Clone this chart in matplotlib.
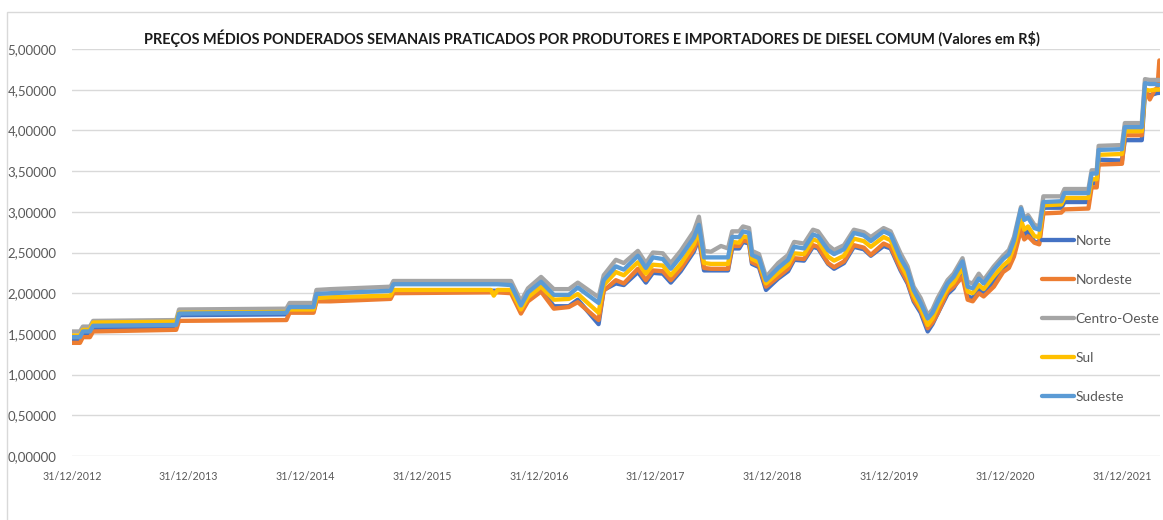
import matplotlib
matplotlib.use("Agg")
import matplotlib.pyplot as plt
import matplotlib.dates as mdates
from matplotlib import font_manager as fm
from matplotlib.patches import Rectangle
import pandas as pd

avail = {f.name for f in fm.fontManager.ttflist}
FONT = next((f for f in ['Liberation Sans Narrow', 'Lato', 'Roboto', 'Open Sans'] if f in avail), 'DejaVu Sans')
plt.rcParams['font.family'] = [FONT, 'DejaVu Sans']

TITLE = "PREÇOS MÉDIOS PONDERADOS SEMANAIS PRATICADOS POR PRODUTORES E IMPORTADORES DE DIESEL COMUM (Valores em R$)"

dates = ["2012-12-31", "2013-01-25", "2013-02-03", "2013-02-25", "2013-03-07", "2013-11-22", "2013-12-01",
         "2014-11-02", "2014-11-12", "2015-01-26", "2015-02-04", "2015-03-20", "2015-09-24", "2015-10-03",
         "2016-08-03", "2016-08-12", "2016-08-24", "2016-10-05", "2016-11-05", "2016-11-27", "2017-01-07",
         "2017-02-16", "2017-04-04", "2017-05-02", "2017-07-06", "2017-07-22", "2017-08-29", "2017-09-23",
         "2017-11-06", "2017-12-01", "2017-12-23", "2018-01-23", "2018-02-17", "2018-03-20", "2018-04-30",
         "2018-05-16", "2018-06-01", "2018-06-23", "2018-07-24", "2018-08-15", "2018-08-28", "2018-09-19",
         "2018-10-01", "2018-10-20", "2018-10-29", "2018-11-20", "2018-12-12", "2019-01-19", "2019-02-19",
         "2019-03-10", "2019-04-10", "2019-05-08", "2019-05-24", "2019-06-24", "2019-07-13", "2019-08-13",
         "2019-09-13", "2019-10-14", "2019-11-05", "2019-12-15", "2020-01-06", "2020-02-06", "2020-02-28",
         "2020-03-18", "2020-04-09", "2020-05-01", "2020-05-16", "2020-06-01", "2020-07-02", "2020-07-21",
         "2020-08-18", "2020-09-03", "2020-09-19", "2020-10-08", "2020-10-23", "2020-11-24", "2020-12-23",
         "2021-01-10", "2021-01-26", "2021-02-17", "2021-02-27", "2021-03-11", "2021-03-31", "2021-04-15",
         "2021-04-28", "2021-06-23", "2021-07-03", "2021-09-16", "2021-09-26", "2021-10-12", "2021-10-18",
         "2021-12-30", "2022-01-08", "2022-03-02", "2022-03-12", "2022-03-27", "2022-04-12", "2022-04-20",
         "2022-04-26"]

centro_oeste = [1.53, 1.53, 1.59, 1.59, 1.66, 1.67, 1.80, 1.81, 1.88, 1.88, 2.04, 2.05, 2.08, 2.15,
                2.15, 2.15, 2.15, 2.15, 1.90, 2.06, 2.20, 2.05, 2.05, 2.13, 1.95, 2.22, 2.41, 2.37,
                2.52, 2.37, 2.50, 2.49, 2.37, 2.52, 2.76, 2.94, 2.52, 2.51, 2.58, 2.55, 2.76, 2.76,
                2.82, 2.80, 2.52, 2.48, 2.20, 2.37, 2.47, 2.63, 2.61, 2.78, 2.76, 2.59, 2.53, 2.59,
                2.78, 2.75, 2.69, 2.80, 2.76, 2.49, 2.33, 2.08, 1.94, 1.73, 1.80, 1.94, 2.16, 2.24,
                2.43, 2.14, 2.12, 2.24, 2.16, 2.33, 2.46, 2.53, 2.69, 3.06, 2.92, 2.96, 2.84, 2.82,
                3.19, 3.19, 3.28, 3.28, 3.51, 3.51, 3.81, 3.82, 4.09, 4.09, 4.63, 4.62, 4.62, 4.62,
                4.62]
sudeste = [1.46, 1.46, 1.53, 1.53, 1.60, 1.61, 1.75, 1.76, 1.83, 1.83, 1.99, 2.00, 2.03, 2.11,
           2.11, 2.11, 2.11, 2.10, 1.85, 2.01, 2.14, 1.98, 1.98, 2.07, 1.88, 2.16, 2.33, 2.29,
           2.46, 2.31, 2.44, 2.42, 2.30, 2.45, 2.68, 2.84, 2.44, 2.44, 2.44, 2.44, 2.69, 2.69,
           2.76, 2.74, 2.47, 2.43, 2.16, 2.31, 2.41, 2.57, 2.55, 2.72, 2.70, 2.53, 2.48, 2.54,
           2.74, 2.71, 2.64, 2.76, 2.72, 2.43, 2.28, 2.04, 1.88, 1.69, 1.76, 1.89, 2.12, 2.20,
           2.39, 2.08, 2.06, 2.18, 2.12, 2.29, 2.42, 2.48, 2.65, 3.04, 2.90, 2.93, 2.80, 2.78,
           3.12, 3.13, 3.23, 3.23, 3.47, 3.47, 3.76, 3.77, 4.04, 4.04, 4.58, 4.57, 4.57, 4.56,
           4.56]
sul = [1.48, 1.48, 1.55, 1.55, 1.64, 1.65, 1.76, 1.77, 1.80, 1.80, 1.94, 1.95, 1.97, 2.04,
       2.04, 1.97, 2.04, 2.04, 1.80, 1.95, 2.08, 1.92, 1.93, 1.99, 1.76, 2.10, 2.26, 2.22,
       2.38, 2.24, 2.35, 2.34, 2.22, 2.36, 2.60, 2.76, 2.37, 2.36, 2.36, 2.36, 2.63, 2.62,
       2.70, 2.68, 2.42, 2.38, 2.12, 2.25, 2.35, 2.49, 2.48, 2.66, 2.64, 2.45, 2.40, 2.46,
       2.67, 2.64, 2.57, 2.69, 2.65, 2.36, 2.20, 1.97, 1.82, 1.61, 1.69, 1.83, 2.06, 2.13,
       2.31, 2.02, 2.00, 2.10, 2.05, 2.21, 2.34, 2.40, 2.57, 2.90, 2.78, 2.82, 2.70, 2.69,
       3.08, 3.09, 3.17, 3.17, 3.40, 3.40, 3.70, 3.71, 3.99, 3.99, 4.50, 4.49, 4.50, 4.50,
       4.50]
norte = [1.43, 1.43, 1.50, 1.50, 1.57, 1.58, 1.73, 1.74, 1.78, 1.78, 1.92, 1.93, 1.95, 2.03,
         2.03, 2.03, 2.03, 2.03, 1.78, 1.93, 2.04, 1.84, 1.84, 1.92, 1.62, 2.04, 2.12, 2.10,
         2.26, 2.13, 2.25, 2.24, 2.13, 2.27, 2.51, 2.67, 2.28, 2.28, 2.28, 2.28, 2.55, 2.55,
         2.63, 2.61, 2.36, 2.32, 2.04, 2.18, 2.27, 2.41, 2.40, 2.57, 2.55, 2.36, 2.30, 2.37,
         2.57, 2.54, 2.46, 2.58, 2.55, 2.28, 2.12, 1.90, 1.76, 1.53, 1.62, 1.75, 1.99, 2.06,
         2.25, 1.96, 1.94, 2.05, 1.99, 2.15, 2.28, 2.34, 2.52, 2.85, 2.72, 2.76, 2.63, 2.62,
         3.05, 3.05, 3.12, 3.12, 3.35, 3.35, 3.64, 3.63, 3.88, 3.88, 4.46, 4.43, 4.45, 4.46,
         4.46]
nordeste = [1.39, 1.39, 1.46, 1.46, 1.53, 1.55, 1.66, 1.67, 1.76, 1.76, 1.90, 1.90, 1.93, 2.00,
            2.01, 2.01, 2.01, 2.00, 1.75, 1.90, 2.02, 1.81, 1.83, 1.89, 1.67, 2.03, 2.16, 2.12,
            2.30, 2.16, 2.28, 2.27, 2.16, 2.30, 2.54, 2.69, 2.31, 2.30, 2.30, 2.30, 2.58, 2.58,
            2.65, 2.63, 2.38, 2.34, 2.08, 2.20, 2.30, 2.43, 2.42, 2.59, 2.57, 2.37, 2.32, 2.39,
            2.59, 2.56, 2.47, 2.61, 2.57, 2.30, 2.14, 1.92, 1.79, 1.57, 1.64, 1.75, 2.02, 2.08,
            2.20, 1.92, 1.90, 2.00, 1.96, 2.08, 2.26, 2.31, 2.45, 2.78, 2.66, 2.70, 2.62, 2.60,
            2.98, 2.99, 3.03, 3.04, 3.30, 3.30, 3.58, 3.59, 3.94, 3.94, 4.52, 4.38, 4.50, 4.52,
            4.86]

series_names = ["Norte", "Nordeste", "Centro-Oeste", "Sul", "Sudeste"]
series_values = [norte, nordeste, centro_oeste, sul, sudeste]
series_colors = ["#4472C4", "#ED7D31", "#A5A5A5", "#FFC000", "#5B9BD5"]

tick_dates = ["2012-12-31", "2013-12-31", "2014-12-31", "2015-12-31", "2016-12-31",
              "2017-12-31", "2018-12-31", "2019-12-31", "2020-12-31", "2021-12-31"]
y_ticks = [0, 0.5, 1.0, 1.5, 2.0, 2.5, 3.0, 3.5, 4.0, 4.5, 5.0]

W, H = 1163, 520
fig = plt.figure(figsize=(W / 100, H / 100), dpi=100)
fig.patch.set_facecolor("white")
fig.add_artist(Rectangle((7 / W, -0.1), 1.2, 1 - 12 / H + 0.1, transform=fig.transFigure,
                         fill=False, edgecolor="#d9d9d9", lw=1.0))

ax = fig.add_axes([72 / W, 1 - 456 / H, (1160 - 72) / W, (456 - 49) / H])
x = pd.to_datetime(dates)
for name, vals, col in zip(series_names, series_values, series_colors):
    ax.plot(x, vals, color=col, lw=3.1, label=name, solid_joinstyle="round", solid_capstyle="round")

ax.set_xlim(pd.Timestamp("2012-12-31"), pd.Timestamp("2022-04-28"))
ax.set_ylim(0, 5)
ax.set_yticks(y_ticks)
ax.set_yticklabels([f"{v:.5f}".replace(".", ",") for v in y_ticks])
ax.set_xticks(pd.to_datetime(tick_dates))
ax.xaxis.set_major_formatter(mdates.DateFormatter("%d/%m/%Y"))
ax.grid(axis="y", color="#d9d9d9", lw=1.0)
ax.set_axisbelow(True)
for s in ax.spines.values():
    s.set_visible(False)
ax.tick_params(axis="both", length=0, colors="#595959")
ax.tick_params(axis="y", pad=11)
ax.tick_params(axis="x", pad=11)

title = fig.text(592 / W, 1 - 38 / H, TITLE, ha="center", va="center", fontsize=12,
                 fontweight="bold", color="#1a1a1a")

# size texts to match the reference's text widths
probe = fig.text(0, 0, "Centro-Oeste", fontsize=12)
probe_x = fig.text(0, 0, "31/12/2012", fontsize=10)
probe_y = fig.text(0, 0, "5,00000", fontsize=10)
fig.canvas.draw()
title.set_fontsize(12 * 899 / title.get_window_extent().width)
leg_fs = 12 * 83 / probe.get_window_extent().width
xtick_fs = 10 * 59 / probe_x.get_window_extent().width
ytick_fs = 10 * 49 / probe_y.get_window_extent().width
for p in (probe, probe_x, probe_y):
    p.remove()
ax.tick_params(axis="x", labelsize=xtick_fs)
ax.tick_params(axis="y", labelsize=ytick_fs)

leg_px = leg_fs * 100 / 72
leg = ax.legend(loc="center left", bbox_to_anchor=(1042 / W, 1 - 319 / H), bbox_transform=fig.transFigure,
                frameon=False, fontsize=leg_fs, handlelength=32 / leg_px,
                handletextpad=0.12, labelspacing=(38 - 0.8 * leg_px) / leg_px, borderpad=0, borderaxespad=0)
for t in leg.get_texts():
    t.set_color("#595959")
for l in leg.get_lines():
    l.set_linewidth(3.1)

fig.savefig("out.png", dpi=100)
